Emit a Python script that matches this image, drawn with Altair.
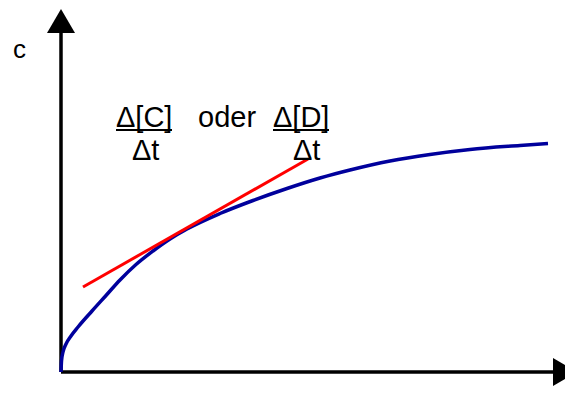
import altair as alt
import pandas as pd

# Blue concentration curve c(t)
curve_t = [0, 0.5, 2, 5, 10, 17, 31, 45, 59, 75, 92, 109, 126, 159, 192, 226, 259, 289, 329, 369, 409, 459, 487]
curve_c = [0, 11, 20, 28, 36, 45, 61, 76.5, 92, 107.5, 121, 133, 143, 158.5, 171.5, 183.5, 194, 202, 211, 217.5, 222.5, 226.5, 228.5]

# Red tangent line
tangent_t = [22, 247]
tangent_c = [85, 213]

# Text labels
label_text = ["c", "Δ[C]", "Δt", "oder", "Δ[D]", "Δt"]
label_t = [-48, 55, 71, 137, 212, 232]
label_c = [314, 245, 212, 245, 245, 212]
label_size = [26, 29, 29, 29, 29, 29]

# Fraction bars (underlines)
bar_t1 = [55, 212]
bar_t2 = [111, 268]
bar_c = [242, 242]

# Axes extents
axis_t_end = 492
axis_c_end = 339
arrow_up = (0, 351)
arrow_right = (504, 0)

xs = alt.Scale(domain=[-53, 504], nice=False, zero=False)
ys = alt.Scale(domain=[-14, 364], nice=False, zero=False)

curve_df = pd.DataFrame({"t": curve_t, "c": curve_c, "i": range(len(curve_t))})
tan_df = pd.DataFrame({"t": tangent_t, "c": tangent_c})
lab_df = pd.DataFrame({"t": label_t, "c": label_c, "text": label_text, "size": label_size})
bar_df = pd.DataFrame({"t": bar_t1, "t2": bar_t2, "c": bar_c})
axes_df = pd.DataFrame({
    "t": [0, 0], "t2": [axis_t_end, 0],
    "c": [0, 0], "c2": [0, axis_c_end],
})
up_df = pd.DataFrame({"t": [arrow_up[0]], "c": [arrow_up[1]]})
right_df = pd.DataFrame({"t": [arrow_right[0]], "c": [arrow_right[1]]})

X = lambda: alt.X("t:Q", scale=xs, axis=None)
Y = lambda: alt.Y("c:Q", scale=ys, axis=None)

axes = alt.Chart(axes_df).mark_rule(color="black", strokeWidth=3.5).encode(
    x=X(), y=Y(), x2="t2:Q", y2="c2:Q"
)
up = alt.Chart(up_df).mark_point(
    shape="M -1 0.857 L 1 0.857 L 0 -0.857 Z", size=784, filled=True,
    color="black", opacity=1, strokeWidth=0
).encode(x=X(), y=Y())
right = alt.Chart(right_df).mark_point(
    shape="M -0.857 -1 L -0.857 1 L 0.857 0 Z", size=784, filled=True,
    color="black", opacity=1, strokeWidth=0
).encode(x=X(), y=Y())

curve = alt.Chart(curve_df).mark_line(
    color="#00009c", strokeWidth=3.5, interpolate="monotone"
).encode(x=X(), y=Y(), order="i:Q")

tangent = alt.Chart(tan_df).mark_line(color="#ff0000", strokeWidth=3).encode(x=X(), y=Y())

labels = alt.Chart(lab_df).mark_text(
    align="left", baseline="alphabetic", font="Liberation Sans", color="black"
).encode(x=X(), y=Y(), text="text:N", size=alt.Size("size:Q", scale=None, legend=None))

bars = alt.Chart(bar_df).mark_rule(color="black", strokeWidth=2).encode(
    x=X(), x2="t2:Q", y=Y()
)

chart = alt.layer(axes, up, right, curve, tangent, labels, bars).properties(
    width=557, height=378, padding=0, autosize=alt.AutoSizeParams(type="none")
).configure_view(stroke=None)

chart.save("out.html", embed_options={"renderer": "svg", "actions": False})
